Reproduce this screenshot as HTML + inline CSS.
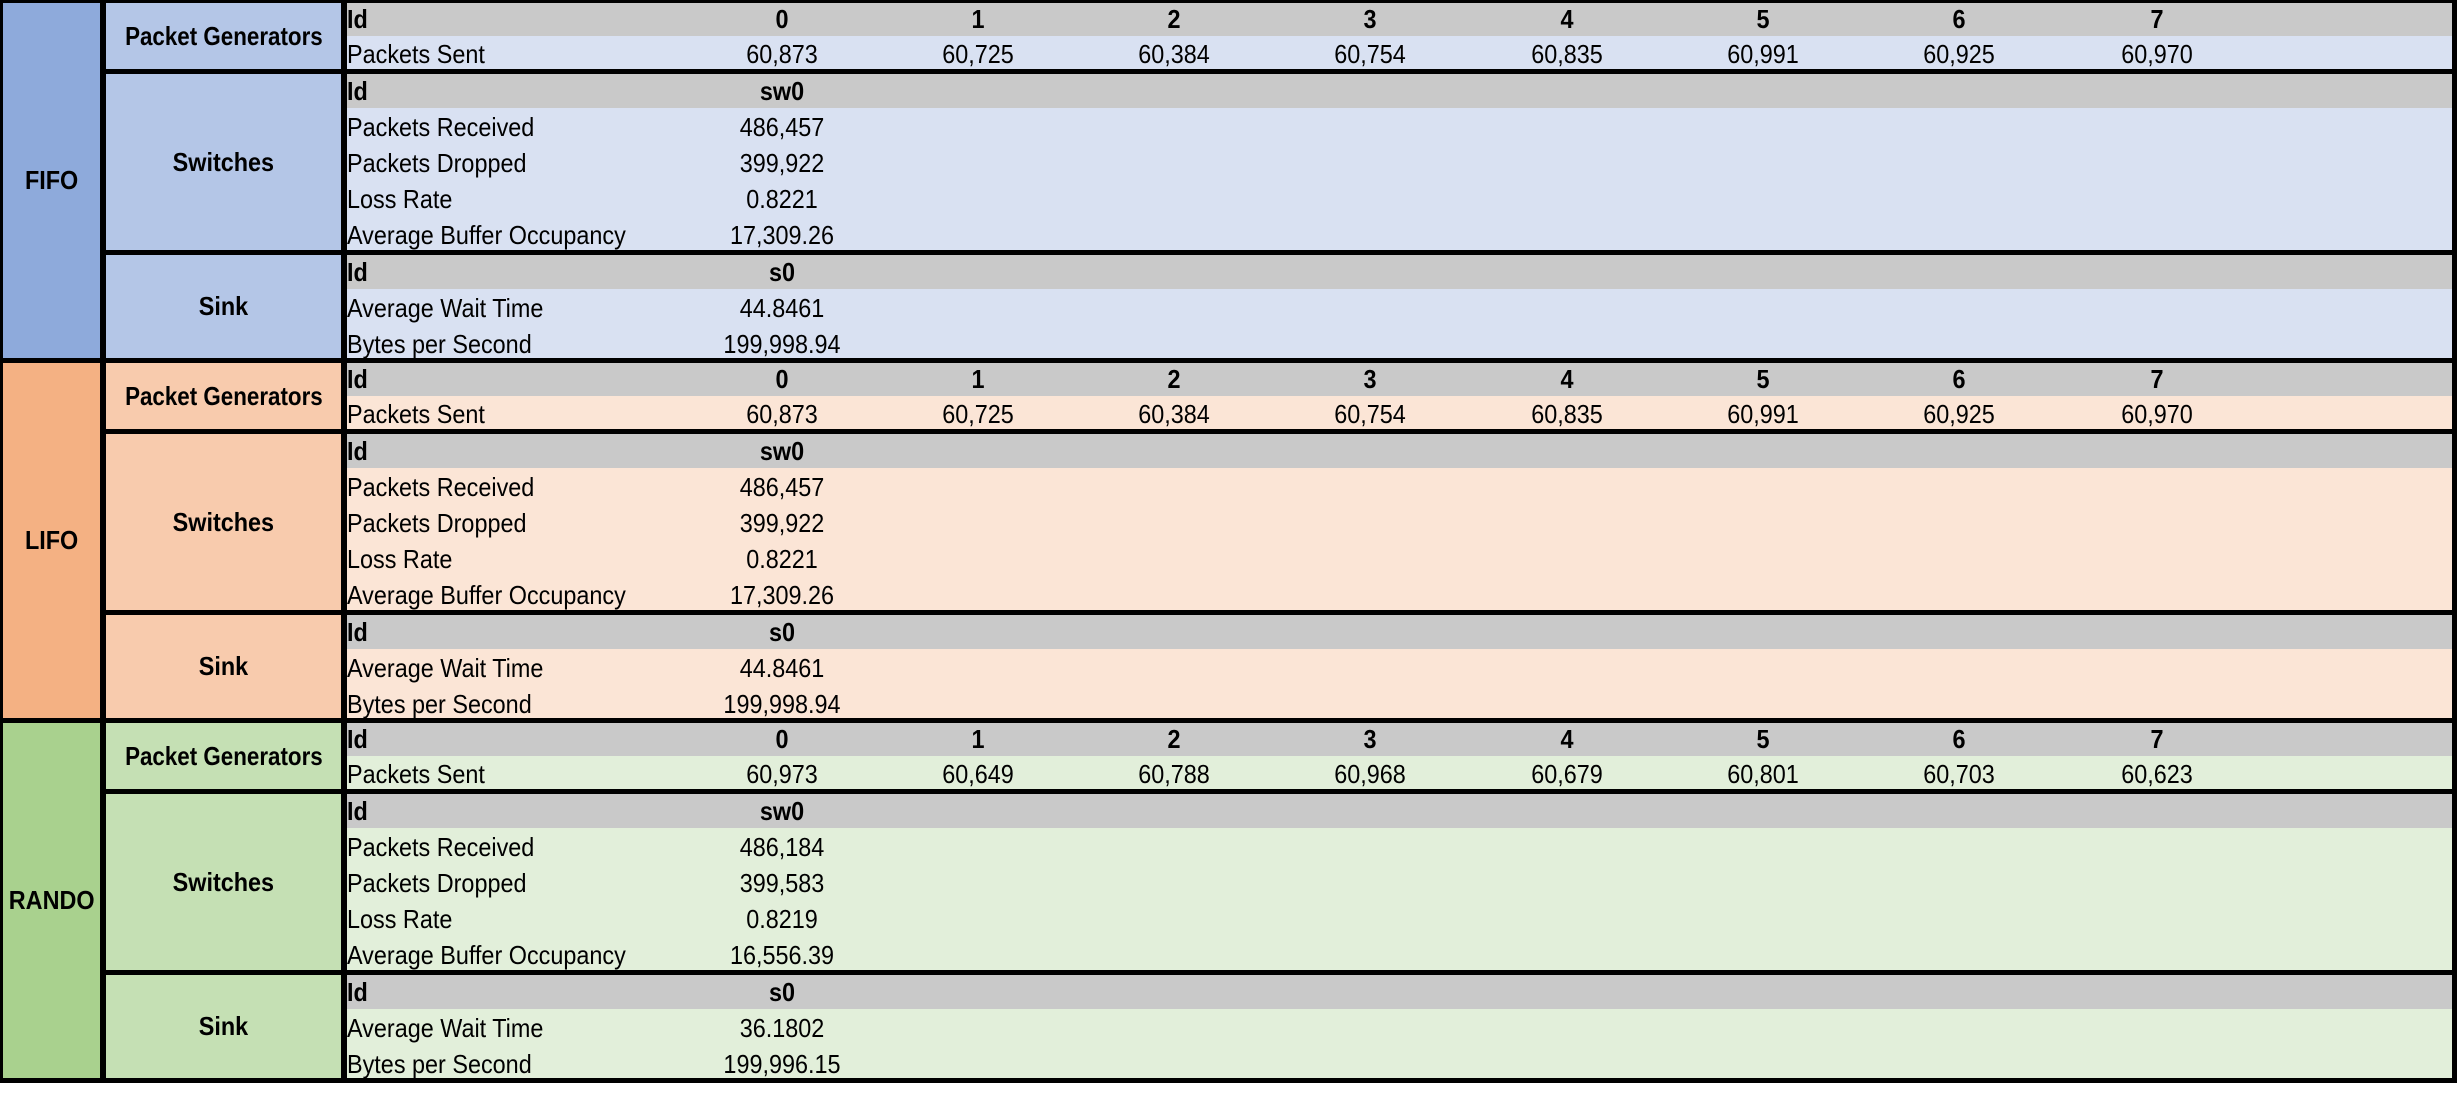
<!DOCTYPE html>
<html><head><meta charset="utf-8"><style>
*{margin:0;padding:0;box-sizing:border-box}
body{width:2458px;height:1104px;background:#fff;position:relative;overflow:hidden;font-family:"Liberation Sans",Arial,sans-serif;color:#000}
.bg{position:absolute;left:0;top:0;width:2457px;height:1083px;background:#000}
.g{position:absolute;left:0;width:2458px;height:360px}
.b{position:absolute}
.t{position:absolute;font-size:26px;white-space:nowrap;line-height:1;transform:scaleX(0.9);transform-origin:0 0;margin-top:-2px}
.c{transform:translateX(-50%) scaleX(0.9);transform-origin:50% 0}
.bold{font-weight:bold}
.ctr{display:flex;align-items:center;justify-content:center;font-weight:bold;font-size:26px}
.ctr span{display:inline-block;transform:scaleX(0.9);white-space:nowrap}
</style></head><body>
<div class="bg"></div>

<!-- FIFO -->
<div class="g" style="top:0">
<div class="b ctr" style="left:3px;top:3px;width:97px;height:355px;background:#8eaadb"><span>FIFO</span></div>
<div class="b ctr" style="left:106px;top:3px;width:235px;height:66px;background:#b4c6e7"><span style="transform:scaleX(0.86)">Packet Generators</span></div>
<div class="b ctr" style="left:106px;top:74px;width:235px;height:176px;background:#b4c6e7"><span>Switches</span></div>
<div class="b ctr" style="left:106px;top:255px;width:235px;height:103px;background:#b4c6e7"><span>Sink</span></div>
<div class="b" style="left:347px;top:3px;width:2105px;height:33px;background:#c9c9c9"></div>
<div class="b" style="left:347px;top:36px;width:2105px;height:33px;background:#d9e1f2"></div>
<div class="b" style="left:347px;top:74px;width:2105px;height:34px;background:#c9c9c9"></div>
<div class="b" style="left:347px;top:108px;width:2105px;height:142px;background:#d9e1f2"></div>
<div class="b" style="left:347px;top:255px;width:2105px;height:34px;background:#c9c9c9"></div>
<div class="b" style="left:347px;top:289px;width:2105px;height:69px;background:#d9e1f2"></div>
<div class="t bold" style="left:347px;top:8px">Id</div>
<div class="t bold c" style="left:782px;top:8px">0</div><div class="t bold c" style="left:978px;top:8px">1</div><div class="t bold c" style="left:1174px;top:8px">2</div><div class="t bold c" style="left:1370px;top:8px">3</div><div class="t bold c" style="left:1567px;top:8px">4</div><div class="t bold c" style="left:1763px;top:8px">5</div><div class="t bold c" style="left:1959px;top:8px">6</div><div class="t bold c" style="left:2157px;top:8px">7</div>
<div class="t" style="left:347px;top:43px">Packets Sent</div>
<div class="t c" style="left:782px;top:43px">60,873</div><div class="t c" style="left:978px;top:43px">60,725</div><div class="t c" style="left:1174px;top:43px">60,384</div><div class="t c" style="left:1370px;top:43px">60,754</div><div class="t c" style="left:1567px;top:43px">60,835</div><div class="t c" style="left:1763px;top:43px">60,991</div><div class="t c" style="left:1959px;top:43px">60,925</div><div class="t c" style="left:2157px;top:43px">60,970</div>
<div class="t bold" style="left:347px;top:80px">Id</div><div class="t bold c" style="left:782px;top:80px">sw0</div>
<div class="t" style="left:347px;top:116px">Packets Received</div><div class="t c" style="left:782px;top:116px">486,457</div>
<div class="t" style="left:347px;top:152px">Packets Dropped</div><div class="t c" style="left:782px;top:152px">399,922</div>
<div class="t" style="left:347px;top:188px">Loss Rate</div><div class="t c" style="left:782px;top:188px">0.8221</div>
<div class="t" style="left:347px;top:224px">Average Buffer Occupancy</div><div class="t c" style="left:782px;top:224px">17,309.26</div>
<div class="t bold" style="left:347px;top:261px">Id</div><div class="t bold c" style="left:782px;top:261px">s0</div>
<div class="t" style="left:347px;top:297px">Average Wait Time</div><div class="t c" style="left:782px;top:297px">44.8461</div>
<div class="t" style="left:347px;top:333px">Bytes per Second</div><div class="t c" style="left:782px;top:333px">199,998.94</div>
</div>

<!-- LIFO -->
<div class="g" style="top:360px">
<div class="b ctr" style="left:3px;top:3px;width:97px;height:355px;background:#f4b183"><span>LIFO</span></div>
<div class="b ctr" style="left:106px;top:3px;width:235px;height:66px;background:#f8cbad"><span style="transform:scaleX(0.86)">Packet Generators</span></div>
<div class="b ctr" style="left:106px;top:74px;width:235px;height:176px;background:#f8cbad"><span>Switches</span></div>
<div class="b ctr" style="left:106px;top:255px;width:235px;height:103px;background:#f8cbad"><span>Sink</span></div>
<div class="b" style="left:347px;top:3px;width:2105px;height:33px;background:#c9c9c9"></div>
<div class="b" style="left:347px;top:36px;width:2105px;height:33px;background:#fbe5d6"></div>
<div class="b" style="left:347px;top:74px;width:2105px;height:34px;background:#c9c9c9"></div>
<div class="b" style="left:347px;top:108px;width:2105px;height:142px;background:#fbe5d6"></div>
<div class="b" style="left:347px;top:255px;width:2105px;height:34px;background:#c9c9c9"></div>
<div class="b" style="left:347px;top:289px;width:2105px;height:69px;background:#fbe5d6"></div>
<div class="t bold" style="left:347px;top:8px">Id</div>
<div class="t bold c" style="left:782px;top:8px">0</div><div class="t bold c" style="left:978px;top:8px">1</div><div class="t bold c" style="left:1174px;top:8px">2</div><div class="t bold c" style="left:1370px;top:8px">3</div><div class="t bold c" style="left:1567px;top:8px">4</div><div class="t bold c" style="left:1763px;top:8px">5</div><div class="t bold c" style="left:1959px;top:8px">6</div><div class="t bold c" style="left:2157px;top:8px">7</div>
<div class="t" style="left:347px;top:43px">Packets Sent</div>
<div class="t c" style="left:782px;top:43px">60,873</div><div class="t c" style="left:978px;top:43px">60,725</div><div class="t c" style="left:1174px;top:43px">60,384</div><div class="t c" style="left:1370px;top:43px">60,754</div><div class="t c" style="left:1567px;top:43px">60,835</div><div class="t c" style="left:1763px;top:43px">60,991</div><div class="t c" style="left:1959px;top:43px">60,925</div><div class="t c" style="left:2157px;top:43px">60,970</div>
<div class="t bold" style="left:347px;top:80px">Id</div><div class="t bold c" style="left:782px;top:80px">sw0</div>
<div class="t" style="left:347px;top:116px">Packets Received</div><div class="t c" style="left:782px;top:116px">486,457</div>
<div class="t" style="left:347px;top:152px">Packets Dropped</div><div class="t c" style="left:782px;top:152px">399,922</div>
<div class="t" style="left:347px;top:188px">Loss Rate</div><div class="t c" style="left:782px;top:188px">0.8221</div>
<div class="t" style="left:347px;top:224px">Average Buffer Occupancy</div><div class="t c" style="left:782px;top:224px">17,309.26</div>
<div class="t bold" style="left:347px;top:261px">Id</div><div class="t bold c" style="left:782px;top:261px">s0</div>
<div class="t" style="left:347px;top:297px">Average Wait Time</div><div class="t c" style="left:782px;top:297px">44.8461</div>
<div class="t" style="left:347px;top:333px">Bytes per Second</div><div class="t c" style="left:782px;top:333px">199,998.94</div>
</div>

<!-- RANDO -->
<div class="g" style="top:720px">
<div class="b ctr" style="left:3px;top:3px;width:97px;height:355px;background:#a9d18e"><span>RANDO</span></div>
<div class="b ctr" style="left:106px;top:3px;width:235px;height:66px;background:#c5e0b4"><span style="transform:scaleX(0.86)">Packet Generators</span></div>
<div class="b ctr" style="left:106px;top:74px;width:235px;height:176px;background:#c5e0b4"><span>Switches</span></div>
<div class="b ctr" style="left:106px;top:255px;width:235px;height:103px;background:#c5e0b4"><span>Sink</span></div>
<div class="b" style="left:347px;top:3px;width:2105px;height:33px;background:#c9c9c9"></div>
<div class="b" style="left:347px;top:36px;width:2105px;height:33px;background:#e2efda"></div>
<div class="b" style="left:347px;top:74px;width:2105px;height:34px;background:#c9c9c9"></div>
<div class="b" style="left:347px;top:108px;width:2105px;height:142px;background:#e2efda"></div>
<div class="b" style="left:347px;top:255px;width:2105px;height:34px;background:#c9c9c9"></div>
<div class="b" style="left:347px;top:289px;width:2105px;height:69px;background:#e2efda"></div>
<div class="t bold" style="left:347px;top:8px">Id</div>
<div class="t bold c" style="left:782px;top:8px">0</div><div class="t bold c" style="left:978px;top:8px">1</div><div class="t bold c" style="left:1174px;top:8px">2</div><div class="t bold c" style="left:1370px;top:8px">3</div><div class="t bold c" style="left:1567px;top:8px">4</div><div class="t bold c" style="left:1763px;top:8px">5</div><div class="t bold c" style="left:1959px;top:8px">6</div><div class="t bold c" style="left:2157px;top:8px">7</div>
<div class="t" style="left:347px;top:43px">Packets Sent</div>
<div class="t c" style="left:782px;top:43px">60,973</div><div class="t c" style="left:978px;top:43px">60,649</div><div class="t c" style="left:1174px;top:43px">60,788</div><div class="t c" style="left:1370px;top:43px">60,968</div><div class="t c" style="left:1567px;top:43px">60,679</div><div class="t c" style="left:1763px;top:43px">60,801</div><div class="t c" style="left:1959px;top:43px">60,703</div><div class="t c" style="left:2157px;top:43px">60,623</div>
<div class="t bold" style="left:347px;top:80px">Id</div><div class="t bold c" style="left:782px;top:80px">sw0</div>
<div class="t" style="left:347px;top:116px">Packets Received</div><div class="t c" style="left:782px;top:116px">486,184</div>
<div class="t" style="left:347px;top:152px">Packets Dropped</div><div class="t c" style="left:782px;top:152px">399,583</div>
<div class="t" style="left:347px;top:188px">Loss Rate</div><div class="t c" style="left:782px;top:188px">0.8219</div>
<div class="t" style="left:347px;top:224px">Average Buffer Occupancy</div><div class="t c" style="left:782px;top:224px">16,556.39</div>
<div class="t bold" style="left:347px;top:261px">Id</div><div class="t bold c" style="left:782px;top:261px">s0</div>
<div class="t" style="left:347px;top:297px">Average Wait Time</div><div class="t c" style="left:782px;top:297px">36.1802</div>
<div class="t" style="left:347px;top:333px">Bytes per Second</div><div class="t c" style="left:782px;top:333px">199,996.15</div>
</div>
</body></html>
